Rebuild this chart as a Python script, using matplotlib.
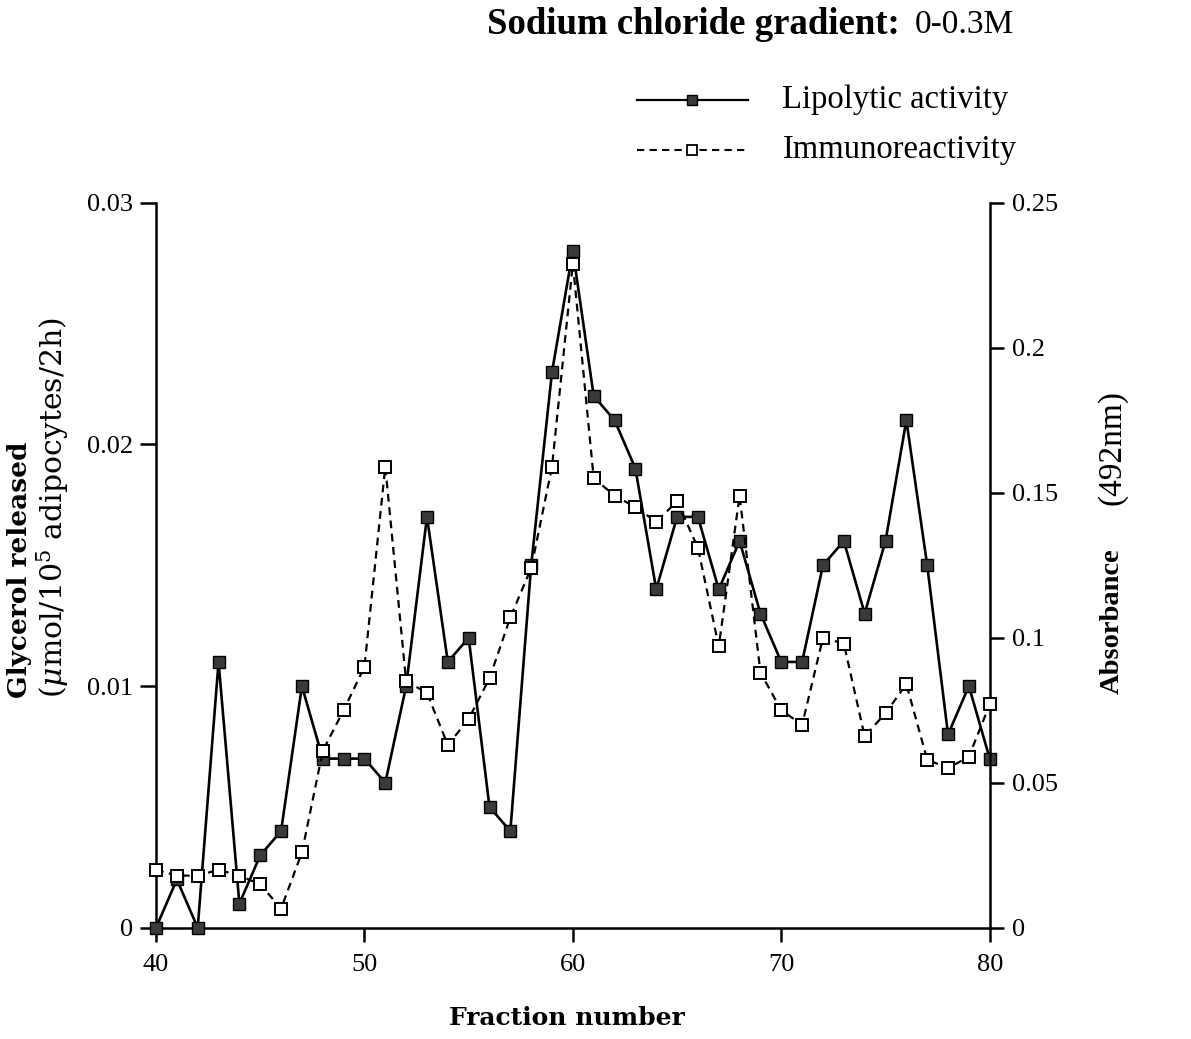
import matplotlib
matplotlib.use("Agg")
import matplotlib.pyplot as plt
import numpy as np

plt.rcParams['font.family'] = ['Liberation Serif', 'DejaVu Serif']
plt.rcParams['mathtext.fontset'] = 'custom'
plt.rcParams['mathtext.rm'] = 'DejaVu Serif'
plt.rcParams['mathtext.it'] = 'DejaVu Serif:italic'

fractions = list(range(40, 81))
lipolytic = [0, 0.002, 0, 0.011, 0.001, 0.003, 0.004, 0.010, 0.007, 0.007,
             0.007, 0.006, 0.010, 0.017, 0.011, 0.012, 0.005, 0.004, 0.015, 0.023,
             0.028, 0.022, 0.021, 0.019, 0.014, 0.017, 0.017, 0.014, 0.016, 0.013,
             0.011, 0.011, 0.015, 0.016, 0.013, 0.016, 0.021, 0.015, 0.008, 0.010,
             0.007]
immuno = [0.020, 0.018, 0.018, 0.020, 0.018, 0.015, 0.0066, 0.026, 0.061, 0.075,
          0.090, 0.159, 0.085, 0.081, 0.063, 0.072, 0.086, 0.107, 0.124, 0.159,
          0.229, 0.155, 0.149, 0.145, 0.140, 0.147, 0.131, 0.097, 0.149, 0.088,
          0.075, 0.070, 0.100, 0.098, 0.066, 0.074, 0.084, 0.058, 0.055, 0.059,
          0.077]
left_ticks = [0, 0.01, 0.02, 0.03]
left_labels = ["0", "0.01", "0.02", "0.03"]
right_ticks = [0, 0.05, 0.1, 0.15, 0.2, 0.25]
right_labels = ["0", "0.05", "0.1", "0.15", "0.2", "0.25"]
x_ticks = [40, 50, 60, 70, 80]

fig = plt.figure(figsize=(11.91, 10.39), dpi=100)
ax = fig.add_axes([0.131, 0.107, 0.700, 0.698])
ax2 = ax.twinx()

ax.plot(fractions, lipolytic, '-', color='black', lw=1.9, marker='s', ms=8,
        mfc='#3a3a3a', mec='black', mew=1.0, zorder=3, clip_on=False)
ax2.plot(fractions, immuno, '--', color='black', lw=1.6, dashes=(3.5, 2.5), marker='s', ms=8,
         mfc='white', mec='black', mew=1.4, zorder=3, clip_on=False)

ax.set_xlim(40, 80)
ax.set_ylim(0, 0.03)
ax2.set_ylim(0, 0.25)
ax.set_xticks(x_ticks)
ax.set_xticklabels([str(t) for t in x_ticks])
ax.set_yticks(left_ticks)
ax.set_yticklabels(left_labels)
ax2.set_yticks(right_ticks)
ax2.set_yticklabels(right_labels)

for a in (ax, ax2):
    a.spines['top'].set_visible(False)
    for s in a.spines.values():
        s.set_linewidth(1.8)
ax.spines['right'].set_visible(False)
ax2.spines['left'].set_visible(False)
ax2.spines['bottom'].set_visible(False)
ax.tick_params(axis='y', direction='out', length=11.5, width=1.8, labelsize=19, pad=5)
ax.tick_params(axis='x', direction='out', length=10, width=1.8, labelsize=19, pad=9)
ax2.tick_params(axis='y', direction='out', length=10, width=1.8, labelsize=19, pad=6)

fig.text(0.476, 0.020, "Fraction number", ha='center', va='center', fontsize=18,
         fontweight='bold', family='DejaVu Serif')
fig.text(0.016, 0.328, "Glycerol released", rotation=90, ha='center', va='bottom',
         fontsize=19, fontweight='bold', family='DejaVu Serif')
fig.text(0.044, 0.328, r"($\mu$mol/10$^5$ adipocytes/2h)", rotation=90, ha='center', va='bottom',
         fontsize=21.5, family='DejaVu Serif')
fig.text(0.934, 0.332, "Absorbance", rotation=90, ha='center', va='bottom',
         fontsize=20.5, fontweight='bold')
fig.text(0.934, 0.514, "(492nm)", rotation=90, ha='center', va='bottom',
         fontsize=24)

fig.text(0.409, 0.976, "Sodium chloride gradient:", ha='left', va='center', fontsize=26.5, fontweight='bold')
fig.text(0.768, 0.976, "0-0.3M", ha='left', va='center', fontsize=24)

fig.add_artist(plt.Line2D([0.535, 0.628], [0.904, 0.904], color='black', lw=1.6))
fig.add_artist(plt.Line2D([0.581], [0.904], marker='s', ms=7, mfc='#3a3a3a', mec='black', lw=0))
fig.add_artist(plt.Line2D([0.535, 0.628], [0.856, 0.856], color='black', lw=1.5, ls='--', dashes=(3.5, 2.5)))
fig.add_artist(plt.Line2D([0.581], [0.856], marker='s', ms=7, mfc='white', mec='black', mew=1.3, lw=0))
fig.text(0.657, 0.904, "Lipolytic activity", ha='left', va='center', fontsize=23.5)
fig.text(0.657, 0.856, "Immunoreactivity", ha='left', va='center', fontsize=23.5)

fig.savefig("out.png", dpi=100)
